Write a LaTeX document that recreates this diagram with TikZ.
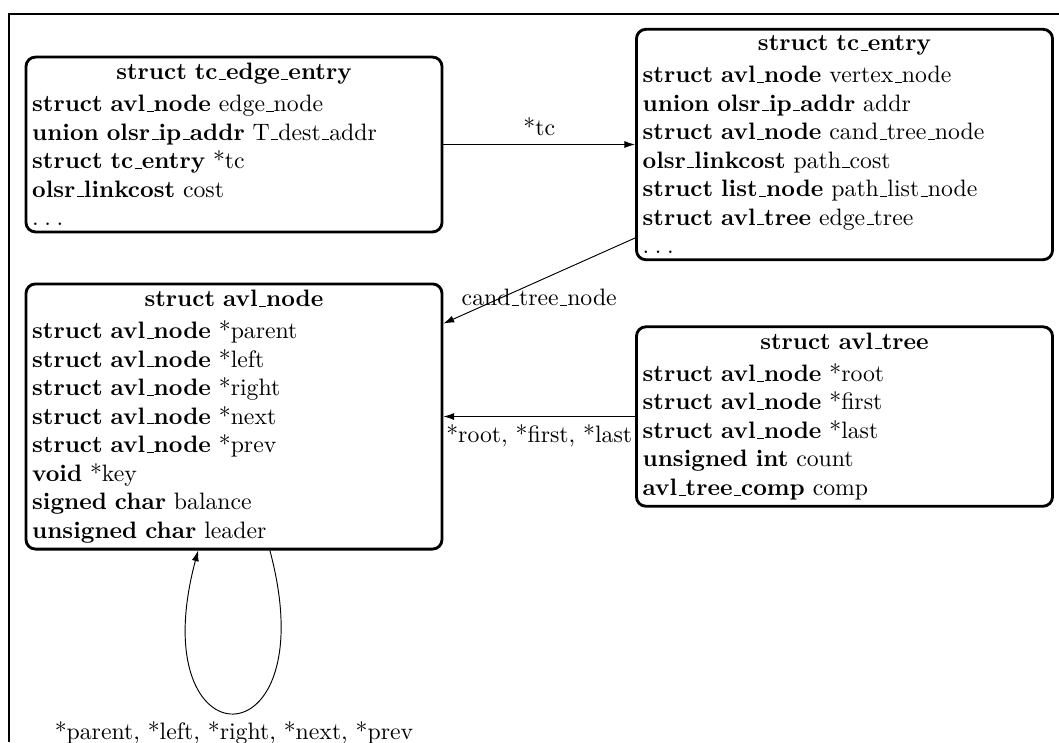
\documentclass[tikz,border=0pt]{standalone}
\usetikzlibrary{arrows.meta}
\renewcommand{\_}{\leavevmode\kern.06em\vbox{\hrule width.3em}}
\newcommand{\sdots}{.\kern2.4pt.\kern2.4pt.}
\newcommand{\stitle}[1]{\makebox[\hsize][c]{\textbf{#1}}\\[1.5pt]}
\begin{document}
\begin{tikzpicture}[x=0.4211pt,y=0.4211pt,
  every loop/.style={},
  structbox/.style={draw, very thick, rounded corners=4pt, text width=170pt, inner sep=2.6pt, align=left},
  link/.style={-{Latex[length=4.5pt,width=3pt]}, thin, shorten >=0pt},
  frameline/.style={line width=0.8pt}]
\useasboundingbox (0,0) rectangle (1059,-742);
\coordinate (fr) at (1059,-14);
\coordinate (fc) at (9,-14);
\coordinate (fb) at (9,-742);
\draw[frameline] (fr) -- (fc) -- (fb);

\node[structbox] (tce) at (234,-144.5) {\stitle{struct tc\_edge\_entry}
\textbf{struct avl\_node} edge\_node\\
\textbf{union olsr\_ip\_addr} T\_dest\_addr\\
\textbf{struct tc\_entry} *tc\\
\textbf{olsr\_linkcost} cost\\
\sdots};

\node[structbox] (tcn) at (844.5,-144.5) {\stitle{struct tc\_entry}
\textbf{struct avl\_node} vertex\_node\\
\textbf{union olsr\_ip\_addr} addr\\
\textbf{struct avl\_node} cand\_tree\_node\\
\textbf{olsr\_linkcost} path\_cost\\
\textbf{struct list\_node} path\_list\_node\\
\textbf{struct avl\_tree} edge\_tree\\
\sdots};

\node[structbox] (avn) at (234,-416.5) {\stitle{struct avl\_node}
\textbf{struct avl\_node} *parent\\
\textbf{struct avl\_node} *left\\
\textbf{struct avl\_node} *right\\
\textbf{struct avl\_node} *next\\
\textbf{struct avl\_node} *prev\\
\textbf{void} *key\\
\textbf{signed char} balance\\
\textbf{unsigned char} leader};

\node[structbox] (avt) at (844.5,-416.5) {\stitle{struct avl\_tree}
\textbf{struct avl\_node} *root\\
\textbf{struct avl\_node} *first\\
\textbf{struct avl\_node} *last\\
\textbf{unsigned int} count\\
\textbf{avl\_tree\_comp} comp};

\draw[link] (tce) -- node[above] (ltc) {*tc} (tcn);
\draw[link] (tcn) -- node[below] (lcand) {cand\_tree\_node} (avn);
\draw[link] (avt) -- node[below] (lroot) {*root, *first, *last} (avn);
\draw[link] (avn) to[loop below] node[below] (lself) {*parent, *left, *right, *next, *prev} (avn);
\end{tikzpicture}
\end{document}
